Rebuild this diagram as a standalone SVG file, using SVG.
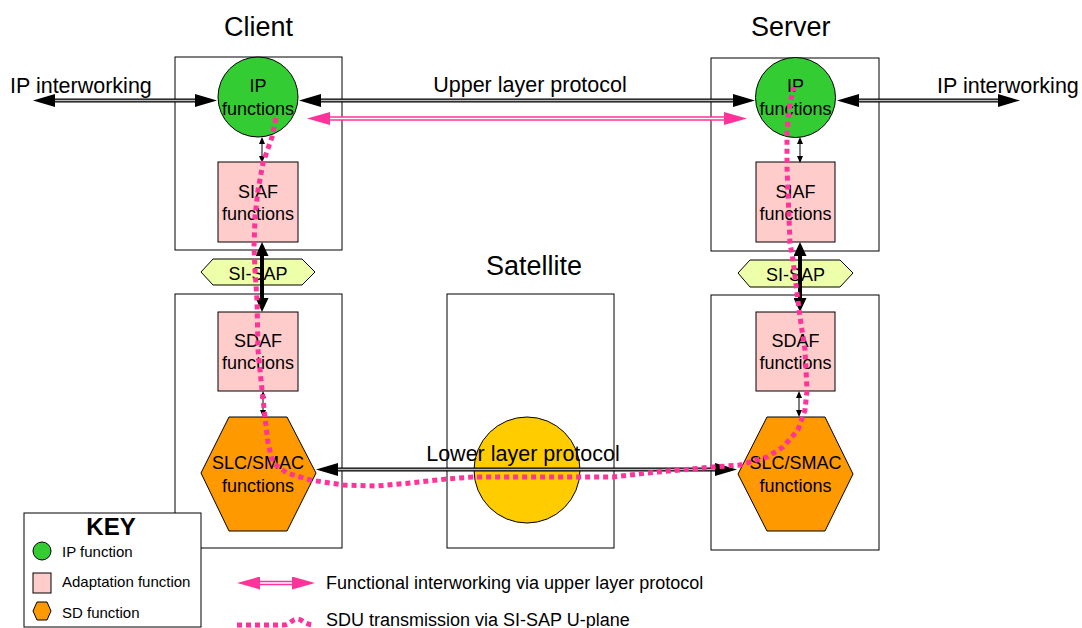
<svg xmlns="http://www.w3.org/2000/svg" width="1082" height="628" viewBox="0 0 1082 628">
<style>
text{font-family:"Liberation Sans",Arial,sans-serif;fill:#000}
.title{font-size:27px}
.lbl{font-size:21.5px}
.nt{font-size:18px;text-anchor:middle}
.key{font-size:15px}
.box{fill:none;stroke:#000;stroke-width:1}
.ip{fill:#33cc33;stroke:#000;stroke-width:1}
.ad{fill:#ffcccc;stroke:#000;stroke-width:1}
.sd{fill:#ff9900;stroke:#000;stroke-width:1}
.sap{fill:#eeffaa;stroke:#000;stroke-width:1}
.sat{fill:#ffcc00;stroke:#000;stroke-width:1}
.dbl{stroke:#000;stroke-width:4;fill:none}
.dblc{stroke:#bbb;stroke-width:1.5;fill:none}
.pk{stroke:#ff3399;stroke-width:4.5;fill:none}
.pkc{stroke:#fff;stroke-width:1.5;fill:none}
.thick{stroke:#000;stroke-width:4;fill:none}
.thin{stroke:#000;stroke-width:1;fill:none}
.dots{stroke:#ff3399;stroke-width:5;stroke-dasharray:5 4;fill:none}
</style>
<defs>
<marker id="ab" markerUnits="userSpaceOnUse" markerWidth="22" markerHeight="13" refX="0" refY="6.5" orient="auto-start-reverse"><path d="M0,0 L22,6.5 L0,13 z" fill="#000"/></marker>
<marker id="ap" markerUnits="userSpaceOnUse" markerWidth="23" markerHeight="13" refX="0" refY="6.5" orient="auto-start-reverse"><path d="M0,0 L23,6.5 L0,13 z" fill="#ff3399"/></marker>
<marker id="at" markerUnits="userSpaceOnUse" markerWidth="14" markerHeight="13" refX="0" refY="6.5" orient="auto-start-reverse"><path d="M0,0 L14,6.5 L0,13 z" fill="#000"/></marker>
<marker id="as" markerUnits="userSpaceOnUse" markerWidth="7" markerHeight="6" refX="0" refY="3" orient="auto-start-reverse"><path d="M0,0 L7,3 L0,6 z" fill="#000"/></marker>
</defs>

<!-- titles -->
<text class="title" x="224" y="36">Client</text>
<text class="title" x="751" y="36">Server</text>
<text class="title" x="486" y="275">Satellite</text>

<!-- containers -->
<g id="client-upper"><rect class="box" x="175" y="57" width="167" height="193"/></g>
<g id="client-lower"><rect class="box" x="175" y="294" width="167" height="254"/></g>
<g id="satellite-box"><rect class="box" x="447" y="294" width="167" height="254"/></g>
<g id="server-upper"><rect class="box" x="711" y="58" width="168" height="193"/></g>
<g id="server-lower"><rect class="box" x="711" y="295" width="168" height="255"/></g>

<!-- nodes -->
<g id="client-ip"><circle class="ip" cx="258" cy="97" r="40"/><text class="nt" x="258" y="92">IP</text><text class="nt" x="258" y="115">functions</text></g>
<g id="client-siaf"><rect class="ad" x="218" y="162" width="80" height="80"/><text class="nt" x="258" y="198">SIAF</text><text class="nt" x="258" y="220">functions</text></g>
<g id="client-sisap"><polygon class="sap" points="201,272 213,259 302,259 315,272 302,285 213,285"/><text class="nt" x="258" y="280">SI-SAP</text></g>
<g id="client-sdaf"><rect class="ad" x="218" y="312" width="80" height="79"/><text class="nt" x="258" y="347">SDAF</text><text class="nt" x="258" y="369">functions</text></g>
<g id="client-slc"><polygon class="sd" points="201,473 229,417 287,417 316,473 287,531 229,531"/><text class="nt" x="258" y="469">SLC/SMAC</text><text class="nt" x="258" y="492">functions</text></g>

<g id="satellite"><circle class="sat" cx="527" cy="470" r="53"/></g>

<g id="server-ip"><circle class="ip" cx="795.5" cy="97.5" r="40"/><text class="nt" x="795.5" y="92">IP</text><text class="nt" x="795.5" y="115">functions</text></g>
<g id="server-siaf"><rect class="ad" x="756" y="162" width="79" height="80"/><text class="nt" x="795.5" y="198">SIAF</text><text class="nt" x="795.5" y="220">functions</text></g>
<g id="server-sisap"><polygon class="sap" points="738,273 750,260 840,260 853,273 840,287 750,287"/><text class="nt" x="795.5" y="281">SI-SAP</text></g>
<g id="server-sdaf"><rect class="ad" x="756" y="312" width="79" height="79"/><text class="nt" x="795.5" y="347">SDAF</text><text class="nt" x="795.5" y="369">functions</text></g>
<g id="server-slc"><polygon class="sd" points="738,474 767,417 825,417 853,474 825,531 767,531"/><text class="nt" x="795.5" y="469">SLC/SMAC</text><text class="nt" x="795.5" y="492">functions</text></g>

<!-- connectors -->
<g id="connectors">
<line class="dbl" x1="55" y1="100.5" x2="195" y2="100.5" marker-start="url(#ab)" marker-end="url(#ab)"/>
<line class="dblc" x1="55" y1="100.5" x2="195" y2="100.5"/>
<line class="dbl" x1="321" y1="100.5" x2="733" y2="100.5" marker-start="url(#ab)" marker-end="url(#ab)"/>
<line class="dblc" x1="321" y1="100.5" x2="733" y2="100.5"/>
<line class="dbl" x1="859" y1="100.5" x2="998" y2="100.5" marker-start="url(#ab)" marker-end="url(#ab)"/>
<line class="dblc" x1="859" y1="100.5" x2="998" y2="100.5"/>
<line class="dbl" x1="338" y1="469.5" x2="715" y2="469.5" marker-start="url(#ab)" marker-end="url(#ab)"/>
<line class="dblc" x1="338" y1="469.5" x2="715" y2="469.5"/>

<line class="pk" x1="330" y1="118.5" x2="724" y2="118.5" marker-start="url(#ap)" marker-end="url(#ap)"/>
<line class="pkc" x1="330" y1="118.5" x2="724" y2="118.5"/>

<line class="thin" x1="262" y1="144" x2="262" y2="156" marker-start="url(#as)" marker-end="url(#as)"/>
<line class="thin" x1="800" y1="144" x2="800" y2="156" marker-start="url(#as)" marker-end="url(#as)"/>
<line class="thick" x1="262" y1="256" x2="262" y2="298" marker-start="url(#at)" marker-end="url(#at)"/>
<line class="thick" x1="800" y1="256" x2="800" y2="298" marker-start="url(#at)" marker-end="url(#at)"/>
<line class="thin" x1="263" y1="398" x2="263" y2="410" marker-start="url(#as)" marker-end="url(#as)"/>
<line class="thin" x1="799" y1="398" x2="799" y2="410" marker-start="url(#as)" marker-end="url(#as)"/>

<path class="dots" d="M276,118 L272,137 L263,163 L258,190 L255,217 L254,247 L255,270 L257,300 L258,350 L262,390 L265,417 L268,443 L273,463 L287,473 L310,480 L343,485 L377,486 L410,483 L447,479 L473,477 L533,477 L613,477 L647,473 L713,467 L740,465 L767,457 L783,447 L798,430 L805,410 L807,390 L805,350 L800,317 L797,293 L793,260 L790,243 L787,167 L787,130 L790,103 L794,87"/>
</g>

<!-- protocol labels -->
<text class="lbl" x="10" y="93">IP interworking</text>
<text class="lbl" x="530" y="92" text-anchor="middle">Upper layer protocol</text>
<text class="lbl" x="937" y="93">IP interworking</text>
<text class="lbl" x="523" y="461" text-anchor="middle">Lower layer protocol</text>

<!-- key -->
<g id="key">
<rect x="24" y="513" width="177" height="114" fill="#fff" stroke="#000" stroke-width="1"/>
<text x="111" y="535" text-anchor="middle" font-size="24" font-weight="bold">KEY</text>
<circle class="ip" cx="42" cy="551" r="9"/>
<text class="key" x="62" y="557">IP function</text>
<rect class="ad" x="33" y="573" width="18" height="20"/>
<text class="key" x="62" y="587">Adaptation function</text>
<polygon class="sd" points="33,611 37,602 47,602 51,611 47,620 37,620"/>
<text class="key" x="62" y="618">SD function</text>
</g>

<g id="legend">
<line class="pk" x1="260" y1="583" x2="292" y2="583" marker-start="url(#ap)" marker-end="url(#ap)"/>
<line class="pkc" x1="260" y1="583" x2="292" y2="583"/>
<text x="326" y="589" font-size="18">Functional interworking via upper layer protocol</text>
<path class="dots" d="M237,625 L283,625 C290,625 292,619 297,619 C302,619 305,625 315,625"/>
<text x="326" y="626" font-size="18">SDU transmission via SI-SAP U-plane</text>
</g>
</svg>
